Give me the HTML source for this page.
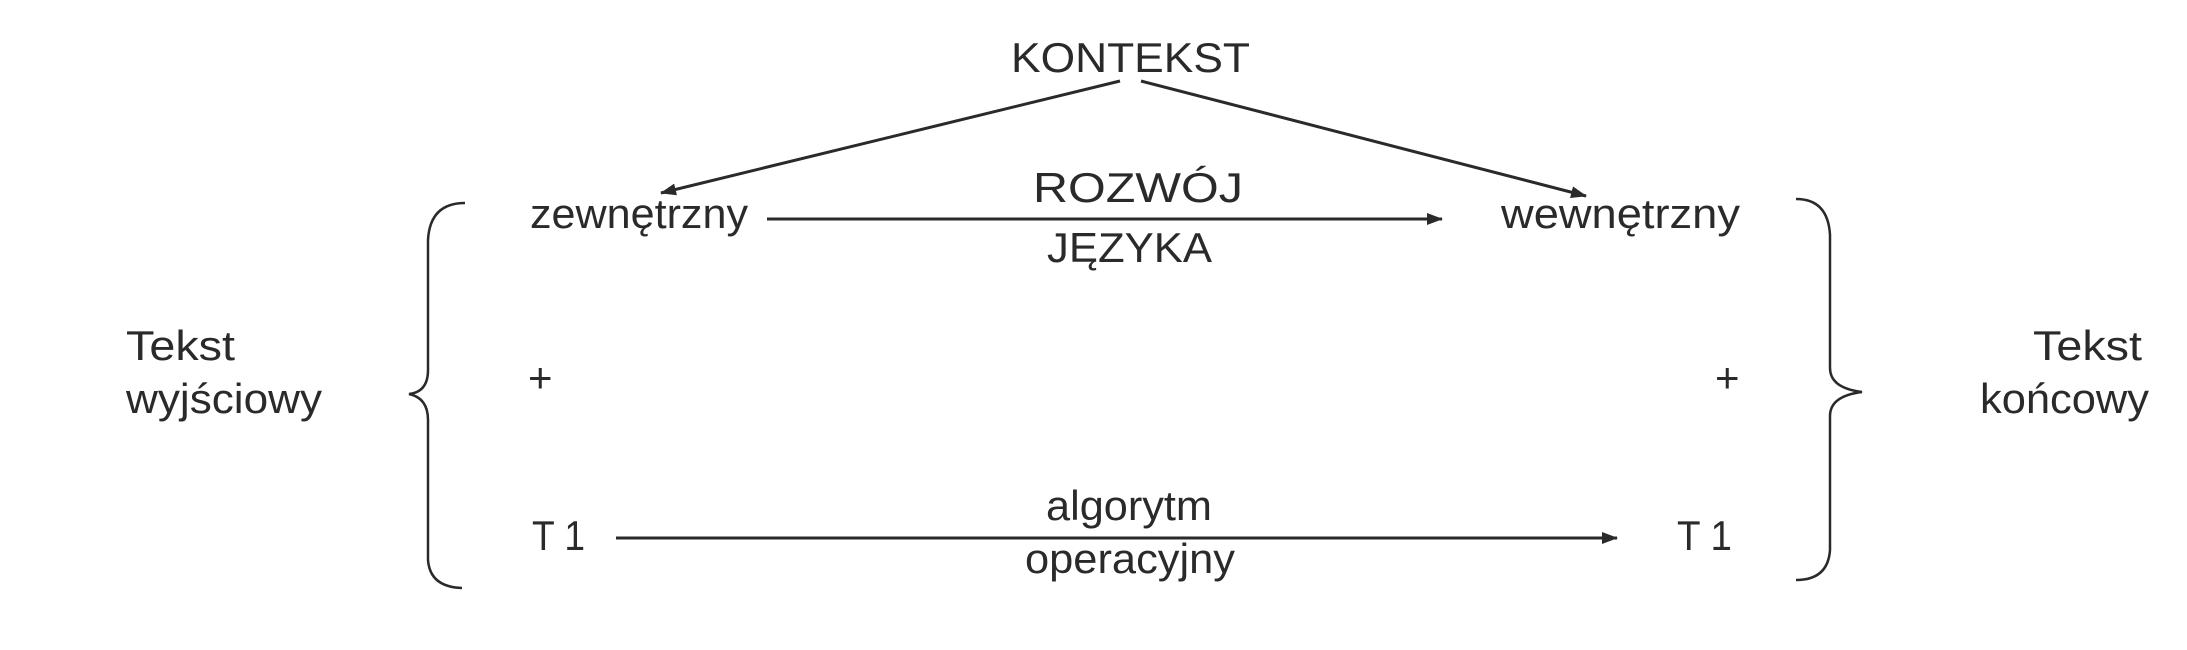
<!DOCTYPE html>
<html><head><meta charset="utf-8"><style>html,body{margin:0;padding:0;background:#fff;}svg{display:block}</style></head>
<body>
<svg width="2187" height="650" viewBox="0 0 2187 650" xmlns="http://www.w3.org/2000/svg">
<defs>
<marker id="ah" markerWidth="10" markerHeight="8" refX="9" refY="4" orient="auto" markerUnits="userSpaceOnUse">
<path d="M0,0 L10,4 L0,8 Z" fill="#2a2a2a"/>
</marker>
<marker id="ah2" markerWidth="16" markerHeight="12" refX="15" refY="6" orient="auto" markerUnits="userSpaceOnUse">
<path d="M0,0 L16,6 L0,12 Z" fill="#2a2a2a"/>
</marker>
</defs>
<g font-family="Liberation Sans, sans-serif" font-size="42" fill="#2a2a2a">
<text x="1011" y="72" textLength="239" lengthAdjust="spacingAndGlyphs">KONTEKST</text>
<text x="1033" y="202" textLength="210" lengthAdjust="spacingAndGlyphs">ROZWÓJ</text>
<text x="530" y="228" textLength="218" lengthAdjust="spacingAndGlyphs">zewnętrzny</text>
<text x="1501" y="228" textLength="239" lengthAdjust="spacingAndGlyphs">wewnętrzny</text>
<text x="1047" y="262" textLength="165" lengthAdjust="spacingAndGlyphs">JĘZYKA</text>
<text x="126" y="360" textLength="109" lengthAdjust="spacingAndGlyphs">Tekst</text>
<text x="126" y="413" textLength="196" lengthAdjust="spacingAndGlyphs">wyjściowy</text>
<text x="2033" y="360" textLength="109" lengthAdjust="spacingAndGlyphs">Tekst</text>
<text x="1980" y="413" textLength="169" lengthAdjust="spacingAndGlyphs">końcowy</text>
<text x="528" y="392">+</text>
<text x="1715" y="392">+</text>
<text x="1046" y="520" textLength="166" lengthAdjust="spacingAndGlyphs">algorytm</text>
<text x="532" y="550" textLength="53" lengthAdjust="spacingAndGlyphs">T 1</text>
<text x="1677" y="550" textLength="55" lengthAdjust="spacingAndGlyphs">T 1</text>
<text x="1025" y="573" textLength="210" lengthAdjust="spacingAndGlyphs">operacyjny</text>
</g>
<g stroke="#2a2a2a" stroke-width="3" fill="none">
<line x1="1120" y1="81" x2="661" y2="193" marker-end="url(#ah2)"/>
<line x1="1141" y1="81" x2="1586" y2="196" marker-end="url(#ah2)"/>
<line x1="767" y1="219" x2="1442" y2="219" marker-end="url(#ah2)"/>
<line x1="616" y1="538" x2="1617" y2="538" marker-end="url(#ah2)"/>
<path d="M465,203 Q430,203 428,240 L428,370 Q428,392 409,394 Q428,398 428,420 L428,560 Q430,587 462,588" stroke-width="2.5"/>
<path d="M1796,199 Q1828,199 1830,235 L1830,368 Q1830,388 1862,392 Q1830,396 1830,416 L1830,550 Q1828,580 1796,580" stroke-width="2.5"/>
</g>
</svg>
</body></html>
